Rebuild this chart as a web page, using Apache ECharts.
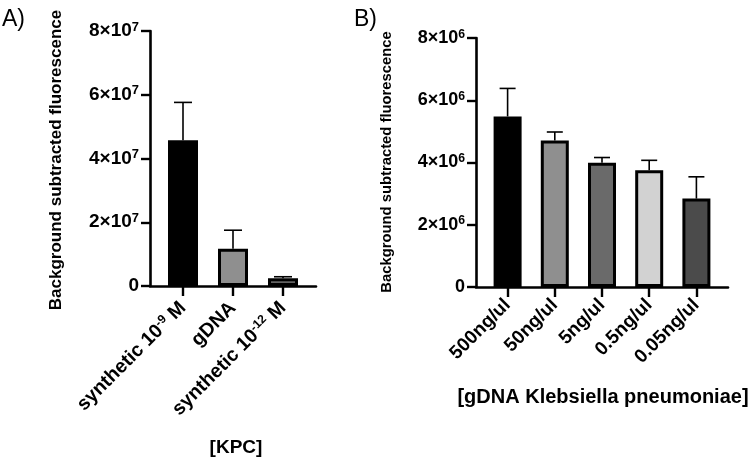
<!DOCTYPE html>
<html>
<head>
<meta charset="utf-8">
<script src="https://cdn.jsdelivr.net/npm/echarts@6/dist/echarts.min.js"></script>
<style>
html,body{margin:0;padding:0;background:#fff;}
#c{width:750px;height:462px;}
</style>
</head>
<body>
<div id="c"></div>
<script>
// ---- Data ----
var catsA = ['synthetic 10^{-9} M', 'gDNA', 'synthetic 10^{-12} M'];
var meanA = [4.57e7, 1.17e7, 2.4e6];
var errA  = [5.76e7, 1.75e7, 2.9e6];
var ticksA = [0, 2e7, 4e7, 6e7, 8e7];

var catsB = ['500ng/ul', '50ng/ul', '5ng/ul', '0.5ng/ul', '0.05ng/ul'];
var meanB = [5.48e6, 4.71e6, 3.99e6, 3.75e6, 2.84e6];
var errB  = [6.38e6, 4.98e6, 4.16e6, 4.07e6, 3.54e6];
var ticksB = [0, 2e6, 4e6, 6e6, 8e6];

var yTitle = 'Background subtracted fluorescence';
var xTitleA = '[KPC]';
var xTitleB = '[gDNA Klebsiella pneumoniae]';

// ---- Styles ----
var colorsA = ['#000000', '#8f8f8f', '#636363'];
var colorsB = ['#000000', '#8f8f8f', '#6a6a6a', '#d2d2d2', '#4b4b4b'];
var FONT = 'Arial, "Liberation Sans", sans-serif';

function supLabel(s) {
  var parts = s.split(/(\^\{[^}]*\})/);
  return parts.filter(function (p) { return p.length; }).map(function (p) {
    var m = p.match(/^\^\{([^}]*)\}$/);
    return m ? '{s|' + m[1] + '}' : '{n|' + p + '}';
  }).join('');
}
function yFmt(exp) {
  return function (v) {
    if (v === 0) return '{n|0}';
    return '{n|' + (v / Math.pow(10, exp)) + '×10}{s|' + exp + '}';
  };
}
function richFor(fs, supScale, lift) {
  return {
    n: { fontSize: fs, fontWeight: 'bold', fontFamily: FONT, color: '#000', lineHeight: fs * 1.2 },
    s: { fontSize: fs * supScale, fontWeight: 'bold', fontFamily: FONT, color: '#000', lineHeight: fs * 1.2, padding: [0, 0, lift, 0] }
  };
}
function errRender(cap) {
  return function (params, api) {
    var x = api.value(0);
    var base = api.coord([x, api.value(1)]);
    var top = api.coord([x, api.value(2)]);
    var st = { stroke: '#000', lineWidth: 1.6 };
    return {
      type: 'group',
      children: [
        { type: 'line', shape: { x1: base[0], y1: base[1], x2: top[0], y2: top[1] }, style: st },
        { type: 'line', shape: { x1: top[0] - cap, y1: top[1], x2: top[0] + cap, y2: top[1] }, style: st }
      ]
    };
  };
}

function panel(idx, frame, bars, cats, mean, err, ticks, exp, colors, fs, barW, cap) {
  var max = ticks[ticks.length - 1];
  var interval = ticks[1] - ticks[0];
  var g0 = idx * 2, g1 = idx * 2 + 1;
  return {
    grids: [frame, bars],
    xAxes: [
      { gridIndex: g0, type: 'category', data: [''], axisLine: { lineStyle: { color: '#000', width: 2.6 } },
        axisTick: { show: false }, axisLabel: { show: false }, splitLine: { show: false } },
      { gridIndex: g1, type: 'category', data: cats, axisLine: { show: false },
        axisTick: { show: true, alignWithLabel: true, length: 10, lineStyle: { color: '#000', width: 2.4 } },
        axisLabel: { interval: 0, rotate: 45, margin: fs.xm, color: '#000', fontFamily: FONT, fontWeight: 'bold',
          fontSize: fs.x, formatter: supLabel, rich: richFor(fs.x, 0.62, fs.x * 0.45) } }
    ],
    yAxes: [
      { gridIndex: g0, type: 'value', min: 0, max: max, interval: interval,
        axisLine: { show: true, lineStyle: { color: '#000', width: 2.6 } },
        axisTick: { show: true, length: 9, lineStyle: { color: '#000', width: 2.4 } },
        splitLine: { show: false },
        axisLabel: { margin: 11, color: '#000', fontFamily: FONT, fontWeight: 'bold', fontSize: fs.y, formatter: yFmt(exp),
          rich: richFor(fs.y, 0.68, fs.y * 0.42) } },
      { gridIndex: g1, type: 'value', min: 0, max: max, interval: interval, show: false }
    ],
    series: [
      { type: 'bar', xAxisIndex: g1, yAxisIndex: g1, barWidth: barW,
        data: mean.map(function (v, i) { return { value: v, itemStyle: { color: colors[i], borderColor: '#000', borderWidth: 3 } }; }),
        z: 2 },
      { type: 'custom', xAxisIndex: g1, yAxisIndex: g1, renderItem: errRender(cap),
        data: mean.map(function (v, i) { return [i, v, err[i]]; }), z: 3 }
    ]
  };
}

var pA = panel(0, { left: 150, top: 31, width: 166, height: 255 }, { left: 158, top: 31, width: 150, height: 255 },
  catsA, meanA, errA, ticksA, 7, colorsA, { x: 19.5, y: 19, xm: 19 }, 30, 9);
var pB = panel(1, { left: 476, top: 38, width: 252, height: 249 }, { left: 484, top: 38, width: 236, height: 249 },
  catsB, meanB, errB, ticksB, 6, colorsB, { x: 19, y: 18, xm: 15 }, 28, 8);

var option = {
  backgroundColor: '#fff',
  animation: false,
  grid: pA.grids.concat(pB.grids),
  xAxis: pA.xAxes.concat(pB.xAxes),
  yAxis: pA.yAxes.concat(pB.yAxes),
  series: pA.series.concat(pB.series),
  graphic: [
    { type: 'text', left: 2, top: 8, style: { text: 'A)', font: '23px ' + FONT, fill: '#000' } },
    { type: 'text', left: 354, top: 8, style: { text: 'B)', font: '23px ' + FONT, fill: '#000' } },
    { type: 'text', x: 56, y: 160, rotation: Math.PI / 2, style: { text: yTitle, font: 'bold 17px ' + FONT, fill: '#000', textAlign: 'center', textVerticalAlign: 'middle' } },
    { type: 'text', x: 387, y: 162, rotation: Math.PI / 2, style: { text: yTitle, font: 'bold 14.8px ' + FONT, fill: '#000', textAlign: 'center', textVerticalAlign: 'middle' } },
    { type: 'text', x: 236, y: 448, style: { text: xTitleA, font: 'bold 19px ' + FONT, fill: '#000', textAlign: 'center', textVerticalAlign: 'middle' } },
    { type: 'text', x: 603, y: 397, style: { text: xTitleB, font: 'bold 20px ' + FONT, fill: '#000', textAlign: 'center', textVerticalAlign: 'middle' } }
  ]
};

var chart = echarts.init(document.getElementById('c'), null, { renderer: 'canvas' });
chart.setOption(option);
</script>
</body>
</html>
